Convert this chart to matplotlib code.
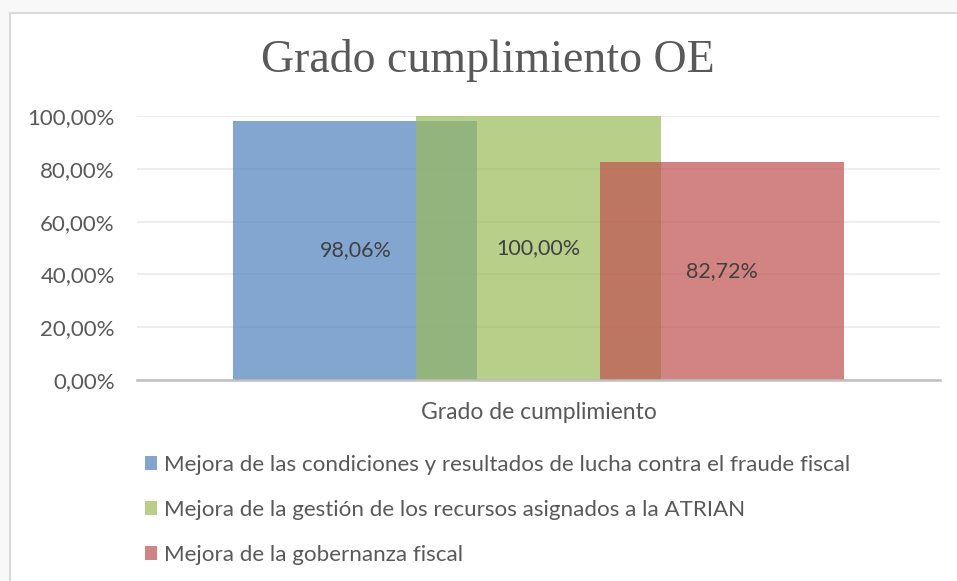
import matplotlib
matplotlib.use("Agg")
import matplotlib.pyplot as plt
from matplotlib.patches import Rectangle
from matplotlib.ticker import FuncFormatter

# ---- data ----
category = ["Grado de cumplimiento"]
series_names = [
    "Mejora de las condiciones y resultados de lucha contra el fraude fiscal",
    "Mejora de la gestión de los recursos asignados a la ATRIAN",
    "Mejora de la gobernanza fiscal",
]
series_values = [0.9806, 1.0000, 0.8272]
series_labels = ["98,06%", "100,00%", "82,72%"]
y_ticks = [0.0, 0.2, 0.4, 0.6, 0.8, 1.0]
colors = ["#4F81BD", "#9BBB59", "#C0504D"]

W, H = 957, 581
fig = plt.figure(figsize=(W / 100, H / 100), dpi=100)
fig.patch.set_facecolor("#F8F8F8")
fig.patches.append(Rectangle((10 / W, -0.01), (W - 5) / W, (H - 13) / H + 0.01,
                             transform=fig.transFigure, facecolor="white",
                             edgecolor="#D9D9D9", linewidth=1.5, zorder=-10))

ax = fig.add_axes([137 / W, 1 - 380 / H, 803 / W, 264 / H])
ax.set_facecolor("none")
ax.set_zorder(1)

bar_w = 0.304
step = 0.228
bars = []
for i, (name, v, lab, c) in enumerate(zip(series_names, series_values, series_labels, colors)):
    x = (i - 1) * step
    b = ax.bar(x, v, width=bar_w, color=c, alpha=0.7, label=name, zorder=2 + i, clip_on=False)
    bars.append(b)
    ax.text(x, v / 2, lab, ha="center", va="center", fontsize=15.5, color="#404040",
            family="Lato", zorder=10)

ax.set_xlim(-0.5, 0.5)
ax.set_ylim(0, 1.0)
ax.set_yticks(y_ticks)
ax.yaxis.set_major_formatter(FuncFormatter(lambda v, p: f"{v*100:.2f}%".replace(".", ",")))
ax.set_xticks([0])
ax.set_xticklabels(category)
ax.tick_params(axis="both", length=0, labelcolor="#595959")
ax.tick_params(axis="y", pad=16, labelsize=16)
ax.tick_params(axis="x", pad=16, labelsize=16.5)
for lab in ax.get_xticklabels() + ax.get_yticklabels():
    lab.set_family("Lato")
ax.grid(axis="y", color="#EBEBEB", linewidth=1.2, zorder=0)
ax.set_axisbelow(True)
for s in ["top", "right", "left"]:
    ax.spines[s].set_visible(False)
ax.spines["bottom"].set_color("#BFBFBF")
ax.spines["bottom"].set_linewidth(1.8)
ax.spines["bottom"].set_zorder(20)

fig.text(488 / W, 1 - 60 / H, "Grado cumplimiento OE", ha="center", va="center",
         fontsize=33, color="#595959", family="Liberation Serif")

leg = fig.legend(handles=[b[0] for b in bars], labels=series_names,
                 loc="upper left", bbox_to_anchor=(136 / W, 1 - 446 / H),
                 frameon=False, handlelength=0.55, handleheight=0.55,
                 handletextpad=0.3, labelspacing=1.12, borderaxespad=0,
                 prop={"family": "Lato", "size": 16.1})
for t in leg.get_texts():
    t.set_color("#595959")

fig.savefig("out.png", dpi=100, facecolor=fig.get_facecolor())
